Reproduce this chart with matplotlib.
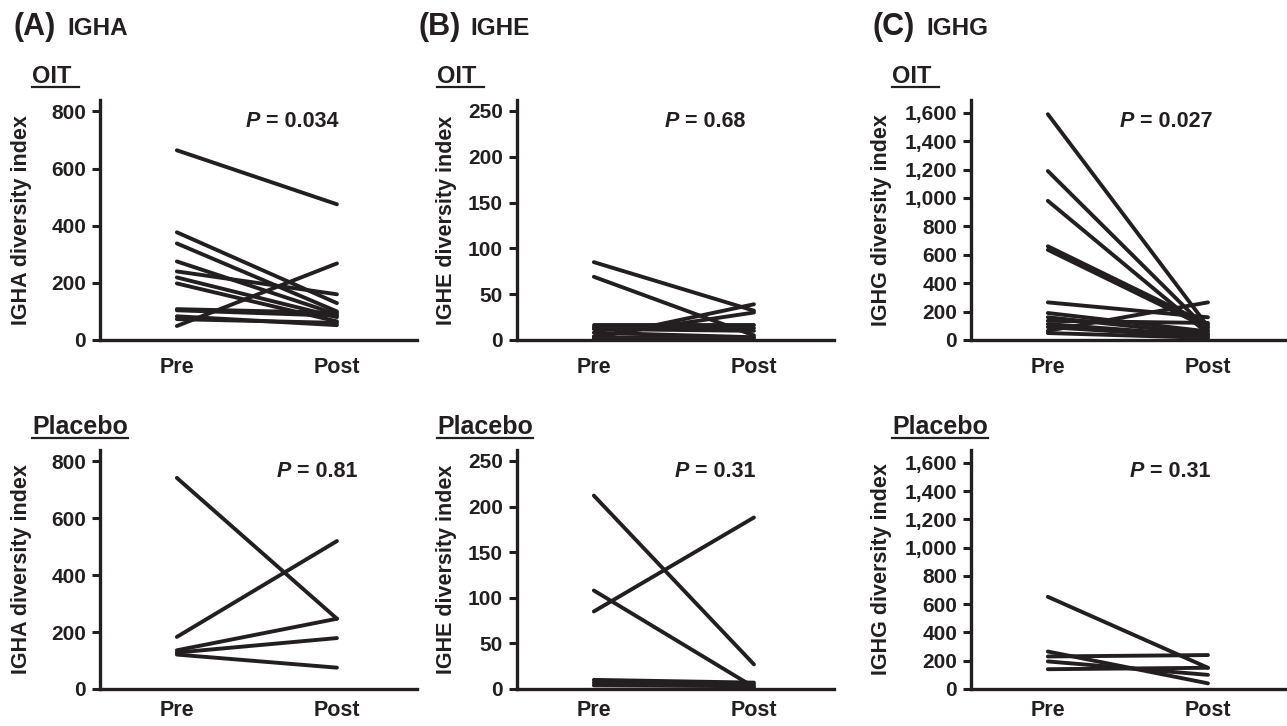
import matplotlib
matplotlib.use("Agg")
import matplotlib.pyplot as plt
from matplotlib.lines import Line2D

plt.rcParams['font.family'] = ['Liberation Sans', 'DejaVu Sans']
plt.rcParams['font.weight'] = 'bold'

INK = '#231f20'

timepoints = ['Pre', 'Post']

# IGHA diversity index
igha_oit_pre = [664, 377, 338, 275, 240, 219, 198, 108, 104, 83, 73, 49]
igha_oit_post = [475, 129, 100, 90, 160, 80, 65, 95, 85, 52, 60, 268]
igha_plc_pre = [742, 183, 136, 128, 121]
igha_plc_post = [247, 520, 247, 179, 75]

# IGHE diversity index
ighe_oit_pre = [85, 69, 2, 4, 16, 14, 12, 8, 3]
ighe_oit_post = [32, 5, 39, 30, 16, 13, 10, 3, 2]
ighe_plc_pre = [212, 108, 85, 10, 7, 4]
ighe_plc_post = [27, 2, 188, 7, 5, 3]

# IGHG diversity index
ighg_oit_pre = [1590, 1190, 980, 660, 635, 265, 190, 160, 135, 112, 91, 65, 49]
ighg_oit_post = [95, 70, 45, 110, 85, 160, 60, 40, 120, 30, 20, 265, 15]
ighg_plc_pre = [652, 265, 230, 195, 140]
ighg_plc_post = [150, 40, 240, 100, 150]

igha_ticks = [0, 200, 400, 600, 800]
ighe_ticks = [0, 50, 100, 150, 200, 250]
ighg_ticks = [0, 200, 400, 600, 800, 1000, 1200, 1400, 1600]

p_values = {'A': ('0.034', '0.81'), 'B': ('0.68', '0.31'), 'C': ('0.027', '0.31')}

fig = plt.figure(figsize=(12.87, 7.26), dpi=100)
W, H = 1287, 726


def px_rect(left, right, top, bottom):
    return [left / W, (H - bottom) / H, (right - left) / W, (bottom - top) / H]


def draw_panel(rect, pre, post, ticks, ytop, ylabel, pval, p_xy, label_x,
               fmt_comma=False, xpad=12):
    ax = fig.add_axes(rect)
    for a, b in zip(pre, post):
        ax.plot([0, 1], [a, b], color=INK, lw=2.8, solid_capstyle='round', clip_on=False)
    ax.set_xlim(-0.48, 1.5)
    ax.set_ylim(0, ytop)
    ax.set_xticks([0, 1])
    ax.set_xticklabels(timepoints)
    ax.set_yticks(ticks)
    if fmt_comma:
        ax.set_yticklabels([f'{t:,}' for t in ticks])
    for s in ['top', 'right']:
        ax.spines[s].set_visible(False)
    for s in ['left', 'bottom']:
        ax.spines[s].set_linewidth(2.4)
        ax.spines[s].set_color(INK)
    ax.tick_params(axis='x', length=0, pad=xpad, labelsize=15.5, colors=INK)
    ax.tick_params(axis='y', length=6, width=2.2, pad=4, labelsize=15, colors=INK)
    ax.set_ylabel(ylabel, fontsize=15.5, fontweight='bold', color=INK)
    ax.yaxis.set_label_coords(label_x, 0.5)
    t1 = ax.text(p_xy[0], p_xy[1], 'P', transform=ax.transAxes, fontsize=15.5,
                 style='italic', fontweight='bold', color=INK, va='center', ha='left')
    ax.annotate(f' = {pval}', xy=(1, 0), xycoords=t1, fontsize=15.5,
                fontweight='bold', color=INK, va='bottom', ha='left')
    return ax


lefts = [100, 517, 971]
label_xs = [-0.215, -0.19, -0.25]
groups = [
    ('A', 'IGHA', igha_oit_pre, igha_oit_post, igha_plc_pre, igha_plc_post, igha_ticks, 840, False),
    ('B', 'IGHE', ighe_oit_pre, ighe_oit_post, ighe_plc_pre, ighe_plc_post, ighe_ticks, 262, False),
    ('C', 'IGHG', ighg_oit_pre, ighg_oit_post, ighg_plc_pre, ighg_plc_post, ighg_ticks, 1690, True),
]
p_top_x = [0.46, 0.467, 0.47]
p_bot_x = [0.558, 0.498, 0.50]

for i, (letter, name, op, oq, pp, pq, ticks, ytop, comma) in enumerate(groups):
    left = lefts[i]
    draw_panel(px_rect(left, left + 317, 100, 340), op, oq, ticks, ytop,
               f'{name} diversity index', p_values[letter][0], (p_top_x[i], 0.91),
               label_xs[i], comma, xpad=12)
    # bottom row: keep Pre/Post inside the canvas
    draw_panel(px_rect(left, left + 317, 450, 689), pp, pq, ticks, ytop,
               f'{name} diversity index', p_values[letter][1], (p_bot_x[i], 0.91),
               label_xs[i], comma, xpad=8)

# headers
header_x = [13, 418, 873]
name_x = [67, 470, 926]
for i, (letter, name, *_rest) in enumerate(groups):
    fig.text(header_x[i] / W, (H - 35) / H, f'({letter})', fontsize=22,
             fontweight='bold', color=INK, va='baseline')
    fig.text(name_x[i] / W, (H - 35) / H, name, fontsize=17.5,
             fontweight='bold', color=INK, va='baseline')

# group labels with underline
group_x = [32, 437, 892]
fig.canvas.draw()
renderer = fig.canvas.get_renderer()
for gx in group_x:
    for txt, size, base, uline, extra in [('OIT', 17, 83, 87, 8), ('Placebo', 18, 434, 438, 0)]:
        t = fig.text(gx / W, (H - base) / H, txt, fontsize=size, fontweight='bold',
                     color=INK, va='baseline')
        bb = t.get_window_extent(renderer)
        fig.lines.append(Line2D([gx / W, (bb.x1 + extra) / W],
                                [(H - uline) / H, (H - uline) / H],
                                transform=fig.transFigure, color=INK, lw=1.6))

fig.savefig('out.png', dpi=100)
